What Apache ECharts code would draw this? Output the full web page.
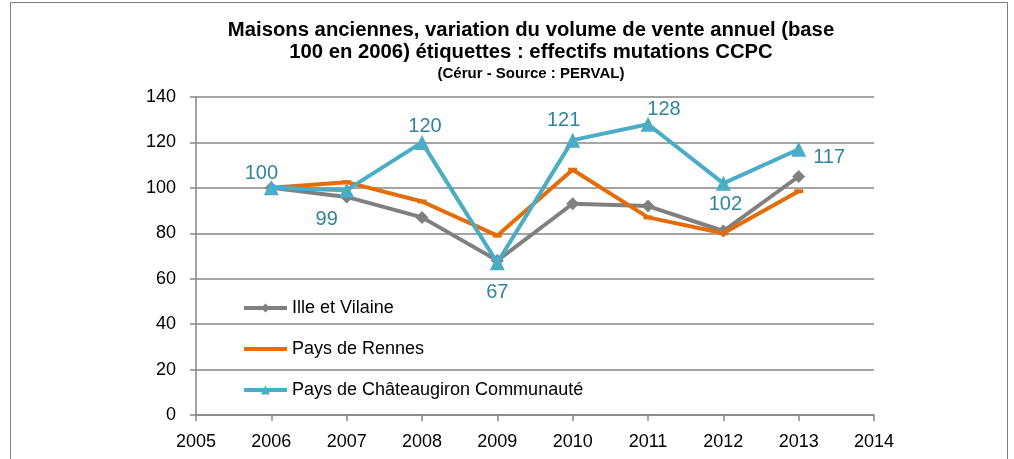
<!DOCTYPE html>
<html>
<head>
<meta charset="utf-8">
<script src="https://cdn.jsdelivr.net/npm/echarts@6/dist/echarts.min.js"></script>
<style>
  html, body { margin: 0; padding: 0; background: #fff; }
  #chart { width: 1014px; height: 459px; }
</style>
</head>
<body>
<div id="chart"></div>
<script>
// years on the x axis
const years = [2006, 2007, 2008, 2009, 2010, 2011, 2012, 2013];
const illeEtVilaine = [100, 96, 87, 68, 93, 92, 81, 105];
const paysDeRennes = [100, 102.5, 94, 79, 108, 87, 80, 98.5];
const ccpc = [100, 99, 120, 67, 121, 128, 102, 117];

// label placement for the CCPC values (Excel nudged a few of them)
const ccpcLabelPos = ['top', 'bottom', 'top', 'bottom', 'top', 'top', 'bottom', 'right'];
const ccpcLabelNudge = [[-10, 4], [-20, 5], [3, 3], [0, 5], [-9, -1], [16, 4], [2, -3], [0, 8]];

const font = 'Liberation Sans, Arial, sans-serif';

function pairs(vals) {
    return years.map((y, i) => [y, vals[i]]);
}

const chart = echarts.init(document.getElementById('chart'));

chart.setOption({
    animation: false,
    textStyle: { fontFamily: font },
    title: {
        text: 'Maisons anciennes, variation du volume de vente annuel (base\n100 en 2006) étiquettes : effectifs mutations CCPC',
        subtext: '(Cérur - Source : PERVAL)',
        left: 526,
        textAlign: 'center',
        top: 14,
        itemGap: 3,
        textStyle: { fontSize: 20.3, fontWeight: 'bold', color: '#000', lineHeight: 22, fontFamily: font },
        subtextStyle: { fontSize: 15, fontWeight: 'bold', color: '#000', lineHeight: 16, fontFamily: font },
    },
    graphic: [{
        type: 'rect',
        shape: { x: 10.5, y: 2.5, width: 997, height: 480 },
        style: { fill: 'none', stroke: '#7f7f7f', lineWidth: 1 },
        silent: true,
    }],
    legend: {
        orient: 'vertical',
        left: 242,
        top: 299,
        padding: 0,
        itemWidth: 43,
        itemHeight: 11,
        itemGap: 23,
        lineStyle: { width: 4 },
        textStyle: { fontSize: 18, color: '#000', fontFamily: font },
        data: [
            'Ille et Vilaine',
            { name: 'Pays de Rennes', itemStyle: { opacity: 0 } },
            'Pays de Châteaugiron Communauté',
        ],
    },
    grid: { left: 196, top: 97, right: 140, bottom: 44 },
    xAxis: {
        type: 'value',
        min: 2005,
        max: 2014,
        interval: 1,
        axisLine: { lineStyle: { color: '#868686', width: 1.5 } },
        axisTick: { show: true, length: 6, lineStyle: { color: '#868686', width: 1.5 } },
        axisLabel: { fontSize: 18, color: '#000', margin: 18, fontFamily: font, formatter: (v) => String(v) },
        splitLine: { show: false },
    },
    yAxis: {
        type: 'value',
        min: 0,
        max: 140,
        interval: 20,
        axisLine: { show: true, lineStyle: { color: '#868686', width: 1.5 } },
        axisTick: { show: true, length: 6, lineStyle: { color: '#868686', width: 1.5 } },
        axisLabel: { fontSize: 18, color: '#000', margin: 20, fontFamily: font },
        splitLine: { lineStyle: { color: '#868686', width: 1.5 } },
    },
    series: [
        {
            name: 'Ille et Vilaine',
            type: 'line',
            data: pairs(illeEtVilaine),
            symbol: 'diamond',
            symbolSize: 13,
            itemStyle: { color: '#808080' },
            lineStyle: { color: '#808080', width: 4 },
            z: 2,
        },
        {
            name: 'Pays de Rennes',
            type: 'line',
            data: pairs(paysDeRennes),
            symbol: 'rect',
            symbolSize: [9, 4],
            itemStyle: { color: '#e46c0a' },
            lineStyle: { color: '#e46c0a', width: 4 },
            z: 3,
        },
        {
            name: 'Pays de Châteaugiron Communauté',
            type: 'line',
            data: pairs(ccpc).map((p, i) => ({
                value: p,
                label: {
                    position: ccpcLabelPos[i],
                    distance: ccpcLabelPos[i] === 'top' ? 1 : 7,
                    offset: ccpcLabelNudge[i],
                },
            })),
            symbol: 'triangle',
            symbolSize: 15,
            itemStyle: { color: '#4bacc6' },
            lineStyle: { color: '#4bacc6', width: 4 },
            label: {
                show: true,
                fontSize: 20,
                color: '#31849b',
                fontFamily: font,
                formatter: (p) => p.value[1],
            },
            z: 4,
        },
    ],
});
</script>
</body>
</html>
